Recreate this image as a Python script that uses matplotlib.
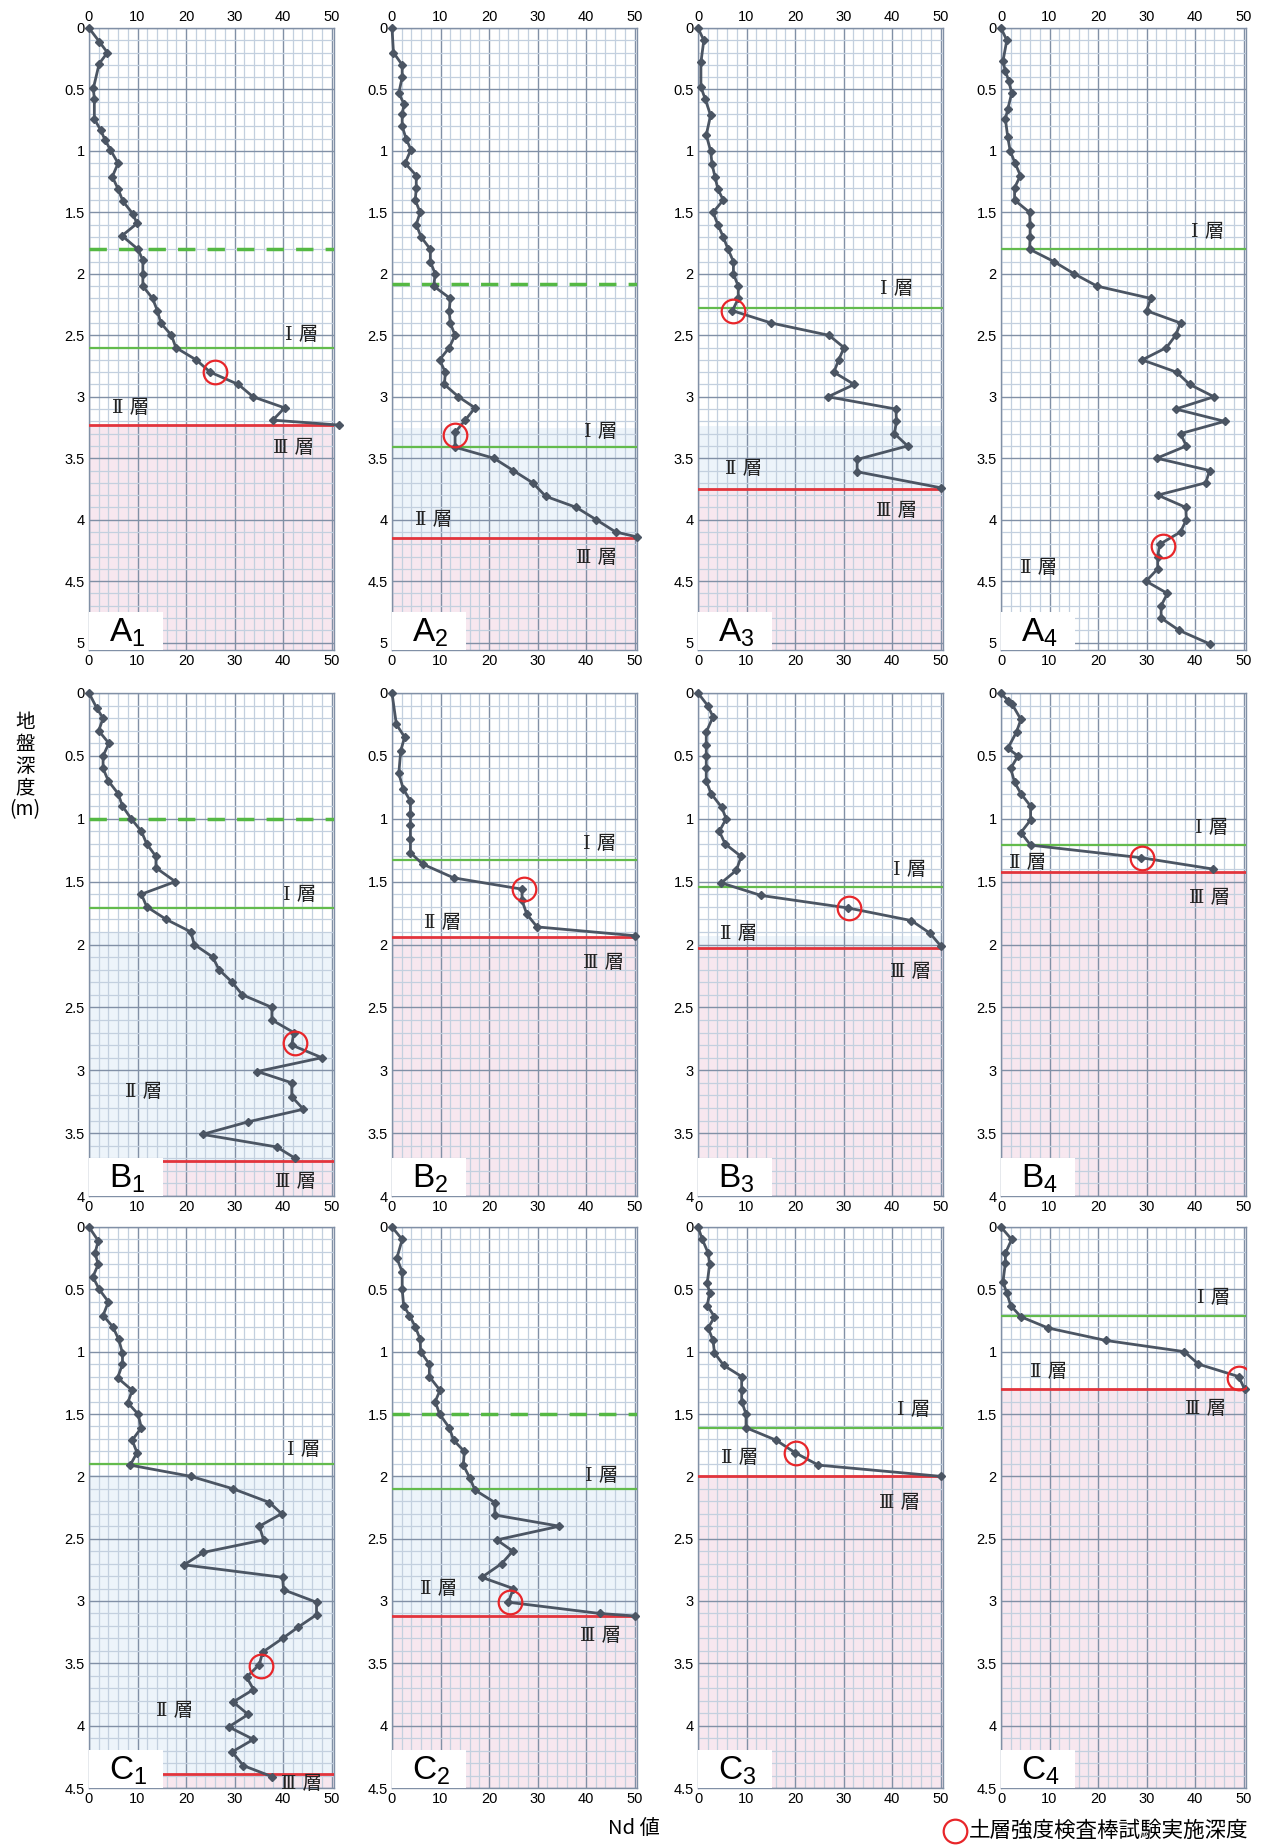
import matplotlib.pyplot as plt
from matplotlib.lines import Line2D
from matplotlib.patches import Rectangle
from matplotlib.ticker import MultipleLocator, FuncFormatter

plt.rcParams['font.family'] = ['Liberation Sans', 'Noto Sans CJK JP', 'DejaVu Sans']
plt.rcParams['mathtext.fontset'] = 'custom'
plt.rcParams['mathtext.rm'] = 'Liberation Sans'

# depth (m) and Nd values read from each profile
A1_d = [0, 0.11, 0.2, 0.29, 0.49, 0.58, 0.74, 0.83, 0.91, 0.99, 1.1, 1.21, 1.31, 1.41, 1.51,
        1.59, 1.69, 1.8, 1.89, 2.0, 2.1, 2.2, 2.3, 2.4, 2.5, 2.6, 2.7, 2.8, 2.9, 3.0, 3.09, 3.19, 3.23]
A1_n = [0, 2.1, 3.8, 2.1, 0.9, 1.1, 1.1, 2.4, 3.3, 4.4, 6.0, 4.8, 6.0, 7.0, 9.0,
        9.9, 6.8, 10.1, 11.1, 11.1, 11.1, 13.1, 14.1, 14.8, 17.0, 17.9, 22.1, 25.0, 30.8, 33.8, 40.3, 37.9, 51.5]

A2_d = [0, 0.2, 0.3, 0.4, 0.53, 0.62, 0.7, 0.8, 0.9, 0.99, 1.1, 1.2, 1.3, 1.4, 1.5, 1.6, 1.7, 1.8,
        1.9, 2.0, 2.1, 2.2, 2.3, 2.4, 2.5, 2.6, 2.7, 2.8, 2.9, 3.0, 3.09, 3.19, 3.29, 3.41, 3.5,
        3.6, 3.7, 3.81, 3.9, 4.0, 4.1, 4.14]
A2_n = [0, 0.3, 2.1, 2.1, 1.4, 2.5, 2.1, 2.1, 2.9, 3.9, 2.7, 5.0, 5.0, 4.8, 5.8, 5.0, 6.0, 7.9,
        7.9, 8.9, 8.6, 12.0, 11.8, 12.0, 13.0, 11.8, 9.8, 11.0, 10.8, 13.7, 17.1, 15.1, 13.0, 13.0, 21.0,
        25.0, 29.0, 31.7, 38.0, 42.1, 46.1, 50.5]

A3_d = [0, 0.1, 0.28, 0.48, 0.58, 0.71, 0.87, 1.0, 1.11, 1.21, 1.31, 1.4, 1.5, 1.6, 1.7, 1.8, 1.9,
        2.0, 2.1, 2.2, 2.3, 2.4, 2.5, 2.6, 2.7, 2.8, 2.9, 3.0, 3.1, 3.2, 3.3, 3.4, 3.51, 3.61, 3.74]
A3_n = [0, 1.2, 0.6, 0.6, 1.5, 2.6, 1.7, 2.6, 2.9, 3.5, 4.1, 5.2, 3.1, 4.1, 5.2, 6.2, 7.3,
        7.3, 8.3, 8.3, 7.1, 15.1, 27.0, 30.1, 29.0, 28.0, 32.2, 26.8, 40.8, 40.9, 40.5, 43.2, 32.8, 32.8, 50.0]

A4_d = [0, 0.1, 0.27, 0.35, 0.43, 0.53, 0.66, 0.74, 0.89, 1.0, 1.1, 1.2, 1.3, 1.4, 1.5, 1.6, 1.7,
        1.8, 1.9, 2.0, 2.1, 2.2, 2.3, 2.4, 2.5, 2.6, 2.7, 2.8, 2.9, 3.0, 3.1, 3.2, 3.3, 3.4, 3.5,
        3.6, 3.7, 3.8, 3.9, 4.0, 4.1, 4.2, 4.3, 4.4, 4.5, 4.6, 4.7, 4.8, 4.9, 5.01]
A4_n = [0, 1.2, 0.4, 0.9, 1.6, 2.2, 1.4, 0.9, 1.4, 1.9, 2.9, 4.0, 2.8, 2.8, 5.9, 6.0, 6.0,
        5.9, 10.9, 15.1, 19.8, 30.9, 30.0, 37.0, 36.0, 34.1, 29.1, 36.2, 38.9, 43.9, 36.0, 46.1, 37.0, 38.2, 32.1,
        43.0, 42.2, 32.3, 38.1, 38.2, 37.0, 32.7, 32.3, 32.3, 29.9, 34.3, 33.0, 33.0, 36.7, 43.0]

B1_d = [0, 0.12, 0.2, 0.3, 0.4, 0.5, 0.6, 0.7, 0.8, 0.9, 1.0, 1.1, 1.2, 1.3, 1.39, 1.5, 1.6, 1.7,
        1.8, 1.9, 2.0, 2.1, 2.2, 2.3, 2.4, 2.5, 2.6, 2.7, 2.8, 2.9, 3.01, 3.1, 3.21, 3.31, 3.41,
        3.51, 3.61, 3.7]
B1_n = [0, 1.6, 2.9, 2.0, 4.1, 2.9, 2.9, 4.0, 6.0, 6.9, 8.7, 10.8, 11.9, 13.8, 13.8, 17.8, 10.8, 11.9,
        15.9, 21.0, 21.7, 25.5, 26.8, 29.5, 31.6, 37.7, 37.7, 42.2, 41.8, 48.0, 34.7, 41.8, 41.8, 44.2, 32.8,
        23.4, 38.7, 42.5]

B2_d = [0, 0.25, 0.35, 0.46, 0.64, 0.76, 0.86, 0.96, 1.05, 1.16, 1.27, 1.36, 1.47, 1.56, 1.65, 1.76, 1.86, 1.93]
B2_n = [0, 0.9, 2.6, 1.8, 1.4, 2.3, 3.8, 3.8, 3.8, 3.8, 3.8, 6.3, 12.7, 26.8, 26.8, 27.8, 29.9, 50.0]

B3_d = [0, 0.1, 0.19, 0.31, 0.41, 0.5, 0.6, 0.7, 0.8, 0.91, 1.0, 1.1, 1.2, 1.3, 1.41, 1.51, 1.61, 1.71,
        1.81, 1.91, 2.01]
B3_n = [0, 2.0, 3.1, 1.7, 1.7, 1.7, 1.7, 1.7, 2.7, 4.9, 5.8, 4.4, 5.6, 8.9, 7.9, 4.8, 13.0, 31.0,
        44.0, 47.8, 50.0]

B4_d = [0, 0.06, 0.09, 0.21, 0.31, 0.44, 0.5, 0.6, 0.71, 0.8, 0.9, 1.01, 1.11, 1.21, 1.31, 1.4]
B4_n = [0, 1.4, 2.3, 4.1, 3.2, 1.4, 3.5, 2.0, 2.8, 4.1, 6.1, 6.1, 4.1, 6.1, 28.9, 43.7]

C1_d = [0, 0.11, 0.21, 0.3, 0.4, 0.5, 0.6, 0.71, 0.8, 0.9, 1.01, 1.1, 1.21, 1.31, 1.41, 1.5, 1.61, 1.71,
        1.81, 1.91, 2.0, 2.1, 2.21, 2.3, 2.4, 2.51, 2.61, 2.71, 2.81, 2.91, 3.01, 3.11, 3.21, 3.3, 3.41,
        3.51, 3.61, 3.71, 3.81, 3.91, 4.01, 4.11, 4.21, 4.32, 4.41]
C1_n = [0, 1.9, 1.25, 1.9, 0.8, 2.1, 4.0, 2.9, 4.9, 6.1, 6.9, 6.9, 5.9, 8.9, 8.0, 10.1, 10.8, 8.9,
        9.9, 8.5, 21.0, 29.7, 37.2, 39.7, 35.1, 36.0, 23.6, 19.6, 39.9, 40.1, 46.9, 46.9, 43.1, 39.9, 35.8,
        35.1, 32.5, 33.9, 29.7, 32.8, 28.8, 33.9, 29.5, 31.8, 37.8]

C2_d = [0, 0.1, 0.25, 0.36, 0.5, 0.63, 0.71, 0.8, 0.9, 1.0, 1.1, 1.2, 1.31, 1.4, 1.5, 1.61, 1.71, 1.8,
        1.91, 2.01, 2.11, 2.21, 2.31, 2.4, 2.51, 2.6, 2.7, 2.81, 2.9, 3.01, 3.1, 3.12]
C2_n = [0, 2.1, 1.0, 2.1, 2.1, 2.4, 3.6, 4.8, 5.8, 5.9, 7.7, 7.7, 9.9, 8.9, 9.8, 11.8, 12.7, 14.9,
        14.7, 16.0, 17.1, 21.2, 21.2, 34.5, 21.6, 24.9, 22.6, 18.5, 25.0, 24.0, 42.8, 50.0]

C3_d = [0, 0.1, 0.21, 0.3, 0.45, 0.53, 0.63, 0.72, 0.81, 0.91, 1.01, 1.11, 1.2, 1.31, 1.4, 1.5, 1.61,
        1.71, 1.81, 1.91, 2.0]
C3_n = [0, 0.9, 2.1, 2.4, 1.9, 2.4, 1.9, 3.4, 2.1, 3.1, 3.4, 5.3, 9.0, 9.0, 9.0, 9.9, 9.9,
        16.1, 20.0, 24.8, 50.0]

C4_d = [0, 0.1, 0.21, 0.29, 0.44, 0.53, 0.63, 0.72, 0.81, 0.91, 1.0, 1.1, 1.2, 1.3]
C4_n = [0, 2.2, 0.9, 0.9, 0.4, 1.2, 2.0, 4.1, 9.7, 21.6, 37.8, 40.7, 49.0, 50.2]

# boundary depths: dashed green, layer I bottom (green), layer III top (red), start of blue zone
dashed = {'A1': 1.8, 'A2': 2.08, 'B1': 1.0, 'C2': 1.5}
green = {'A1': 2.6, 'A2': 3.41, 'A3': 2.28, 'A4': 1.8, 'B1': 1.71, 'B2': 1.33, 'B3': 1.54,
         'B4': 1.21, 'C1': 1.9, 'C2': 2.1, 'C3': 1.61, 'C4': 0.71}
red = {'A1': 3.23, 'A2': 4.15, 'A3': 3.75, 'B1': 3.72, 'B2': 1.94, 'B3': 2.03, 'B4': 1.42,
       'C1': 4.39, 'C2': 3.12, 'C3': 2.0, 'C4': 1.3}
blue_top = {'A2': 3.25, 'A3': 3.24, 'B1': 1.91, 'B3': 1.93, 'C1': 1.99, 'C2': 2.0}

# test depth (red circle) per panel
circles = {'A1': (26, 2.8), 'A2': (13, 3.31), 'A3': (7.3, 2.3), 'A4': (33.3, 4.21),
           'B1': (42.5, 2.78), 'B2': (27.2, 1.56), 'B3': (31.2, 1.71), 'B4': (29.1, 1.31),
           'C1': (35.5, 3.52), 'C2': (24.3, 3.01), 'C3': (20.2, 1.81), 'C4': (49, 1.21)}

# layer labels (x, depth)
layer_txt = {
    'A1': [('Ⅰ 層', 40.3, 2.5), ('Ⅱ 層', 4.7, 3.09), ('Ⅲ 層', 37.9, 3.42)],
    'A2': [('Ⅰ 層', 39.5, 3.29), ('Ⅱ 層', 4.8, 4.0), ('Ⅲ 層', 37.9, 4.31)],
    'A3': [('Ⅰ 層', 37.5, 2.12), ('Ⅱ 層', 5.5, 3.59), ('Ⅲ 層', 36.7, 3.93)],
    'A4': [('Ⅰ 層', 39.1, 1.66), ('Ⅱ 層', 4.0, 4.39)],
    'B1': [('Ⅰ 層', 39.9, 1.61), ('Ⅱ 層', 7.4, 3.17), ('Ⅲ 層', 38.4, 3.89)],
    'B2': [('Ⅰ 層', 39.3, 1.2), ('Ⅱ 層', 6.5, 1.83), ('Ⅲ 層', 39.4, 2.15)],
    'B3': [('Ⅰ 層', 40.1, 1.41), ('Ⅱ 層', 4.5, 1.92), ('Ⅲ 層', 39.6, 2.22)],
    'B4': [('Ⅰ 層', 40.0, 1.07), ('Ⅱ 層', 1.6, 1.35), ('Ⅲ 層', 38.8, 1.63)],
    'C1': [('Ⅰ 層', 40.8, 1.79), ('Ⅱ 層', 13.8, 3.88), ('Ⅲ 層', 39.6, 4.47)],
    'C2': [('Ⅰ 層', 39.7, 2.0), ('Ⅱ 層', 5.7, 2.9), ('Ⅲ 層', 38.8, 3.28)],
    'C3': [('Ⅰ 層', 41.0, 1.47), ('Ⅱ 層', 4.8, 1.85), ('Ⅲ 層', 37.3, 2.21)],
    'C4': [('Ⅰ 層', 40.3, 0.57), ('Ⅱ 層', 5.9, 1.16), ('Ⅲ 層', 38.0, 1.46)],
}

profiles = {'A1': (A1_d, A1_n), 'A2': (A2_d, A2_n), 'A3': (A3_d, A3_n), 'A4': (A4_d, A4_n),
            'B1': (B1_d, B1_n), 'B2': (B2_d, B2_n), 'B3': (B3_d, B3_n), 'B4': (B4_d, B4_n),
            'C1': (C1_d, C1_n), 'C2': (C2_d, C2_n), 'C3': (C3_d, C3_n), 'C4': (C4_d, C4_n)}

W, H = 1262, 1845
fig = plt.figure(figsize=(W / 100, H / 100), dpi=100)

col_left = [89, 392, 698, 1001]
ax_w = 245
rows = {'A': (28, 650, 5.06), 'B': (693, 1196, 4.0), 'C': (1227, 1788, 4.5)}

line_col = '#4b5563'
major_col = '#8190a6'
minor_col = '#c3d0df'

for r, (top, bot, dmax) in rows.items():
    for c in range(4):
        key = f'{r}{c + 1}'
        ax = fig.add_axes([col_left[c] / W, 1 - bot / H, ax_w / W, (bot - top) / H])
        ax.set_xlim(0, 50.5)
        ax.set_ylim(dmax, 0)
        ax.xaxis.set_major_locator(MultipleLocator(10))
        ax.xaxis.set_minor_locator(MultipleLocator(2))
        ax.yaxis.set_major_locator(MultipleLocator(0.5))
        ax.yaxis.set_minor_locator(MultipleLocator(0.1))
        ax.yaxis.set_major_formatter(FuncFormatter(lambda v, p: f'{v:g}'))
        ax.set_axisbelow(True)
        ax.grid(which='major', color=major_col, lw=1.0)
        ax.grid(which='minor', color=minor_col, lw=0.9)
        ax.tick_params(which='both', length=0, labelsize=10.5, pad=3)
        if r == 'A':
            ax.tick_params(axis='x', labeltop=True)
        for s in ax.spines.values():
            s.set_color(major_col)
            s.set_linewidth(1.0)

        # soil zones
        if key in red:
            if key in blue_top:
                ax.axhspan(blue_top[key], red[key], color='#edf4fa', zorder=0.2, lw=0)
            ax.axhspan(red[key], dmax, color='#f7e7ef', zorder=0.2, lw=0)

        if key in dashed:
            ax.axhline(dashed[key], color='#55b843', lw=2.5, ls=(0, (5, 3.5)), zorder=3)
        ax.axhline(green[key], color='#63bb4c', lw=1.6, zorder=3)
        if key in red:
            ax.axhline(red[key], color='#e2343c', lw=2.0, zorder=3)

        d, n = profiles[key]
        ax.plot(n, d, color=line_col, lw=2.0, marker='D', ms=4.5, zorder=4, clip_on=False)
        cx, cy = circles[key]
        ax.plot([cx], [cy], 'o', ms=17, mfc='none', mec='#e8262a', mew=1.6, zorder=5)

        for txt, tx, ty in layer_txt[key]:
            ax.text(tx, ty, txt, fontsize=14, va='center', ha='left', color='#222222',
                    family=['DejaVu Serif', 'Noto Sans CJK JP'], zorder=6)

        # panel label box
        hb = 38 / (bot - top)
        ax.add_patch(Rectangle((0, 0), 0.3, hb, transform=ax.transAxes, facecolor='white',
                               edgecolor='none', zorder=7))
        ax.text(0.08, hb * 0.45, rf'$\mathrm{{{r}}}_{{{c + 1}}}$', transform=ax.transAxes,
                fontsize=24, va='center', ha='left', zorder=8)

fig.text(25 / W, 1 - 766 / H, '地\n盤\n深\n度\n(m)', fontsize=14, ha='center', va='center',
         linespacing=1.05, family=['Noto Sans CJK JP', 'DejaVu Sans'])
fig.text(634 / W, 1 - 1829 / H, 'Nd 値', fontsize=14.5, ha='center', va='center',
         family=['Noto Sans CJK JP', 'DejaVu Sans'])
fig.add_artist(Line2D([955 / W], [1 - 1831 / H], transform=fig.transFigure, marker='o', ms=17,
                      mfc='none', mec='#e8262a', mew=1.6))
fig.text(969 / W, 1 - 1831 / H, '土層強度検査棒試験実施深度', fontsize=15.5, ha='left', va='center',
         family=['Noto Sans CJK JP', 'DejaVu Sans'])

fig.savefig('out.png', dpi=100)
